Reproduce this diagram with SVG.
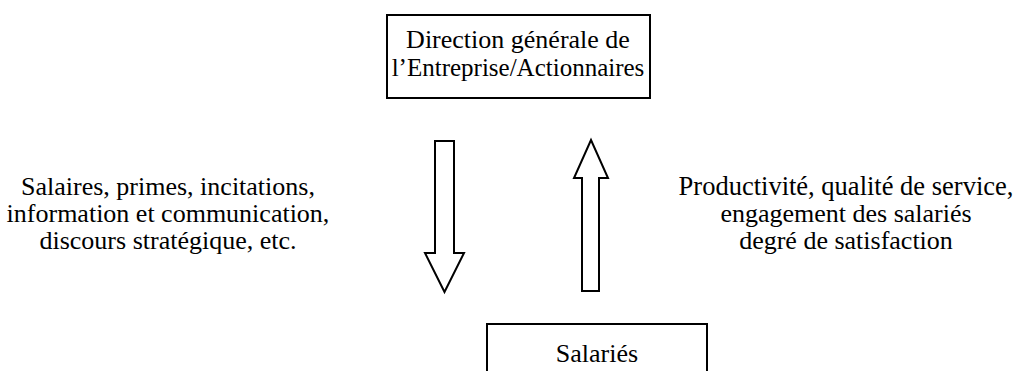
<svg xmlns="http://www.w3.org/2000/svg" width="1018" height="371" viewBox="0 0 1018 371">
<style>
text{font-family:"Liberation Serif","Times New Roman",Tinos,"DejaVu Serif",serif;font-size:26px;fill:#000;text-anchor:middle}
.box{fill:#fff;stroke:#000;stroke-width:2}
.arrow{fill:#fff;stroke:#000;stroke-width:2;stroke-linejoin:miter}
</style>
<rect width="1018" height="371" fill="#fff"/>
<g id="direction">
<rect class="box" x="387" y="15" width="263" height="83"/>
<text x="518" y="48">Direction générale de</text>
<text x="518" y="76" style="font-size:25px">l’Entreprise/Actionnaires</text>
</g>
<g id="salaries">
<rect class="box" x="487" y="324" width="220" height="60"/>
<text x="597" y="362">Salariés</text>
</g>
<g id="connectors">
<polygon class="arrow" points="435,141 454,141 454,253 464,253 444.5,292 425,253 435,253"/>
<polygon class="arrow" points="582,291 599,291 599,178 608,178 591,140 574,178 582,178"/>
</g>
<g id="label-left">
<text x="168" y="195">Salaires, primes, incitations,</text>
<text x="168" y="222">information et communication,</text>
<text x="168" y="249">discours stratégique, etc.</text>
</g>
<g id="label-right">
<text x="846" y="195" style="font-size:26.5px">Productivité, qualité de service,</text>
<text x="846" y="222">engagement des salariés</text>
<text x="846" y="249">degré de satisfaction</text>
</g>
</svg>
